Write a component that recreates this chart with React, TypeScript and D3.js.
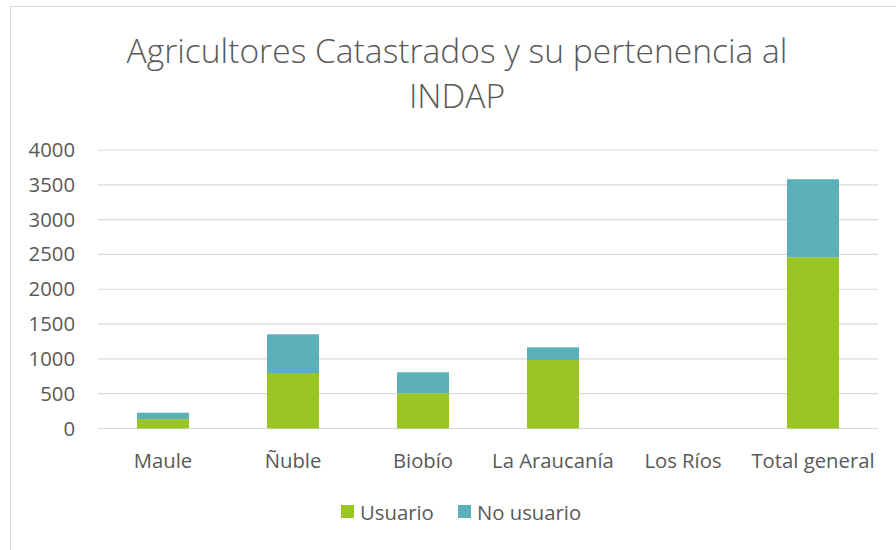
import React, { useEffect, useRef } from 'react';
import * as d3 from 'd3';

const categories = ['Maule', 'Ñuble', 'Biobío', 'La Araucanía', 'Los Ríos', 'Total general'];
const usuario = [135, 797, 506, 984, 0, 2460];
const noUsuario = [92, 556, 301, 182, 0, 1120];
const seriesNames = ['Usuario', 'No usuario'];
const seriesColors = ['#9AC624', '#5BB0B9'];
const yTicks = [0, 500, 1000, 1500, 2000, 2500, 3000, 3500, 4000];
const titleLines = ['Agricultores Catastrados y su pertenencia al', 'INDAP'];

export default function App() {
  const ref = useRef<SVGSVGElement>(null);

  useEffect(() => {
    const svg = d3.select(ref.current);
    svg.selectAll('*').remove();

    const W = 896, H = 550;
    const left = 98, right = 878, top = 150, bottom = 428.5;
    const font = "'Open Sans', sans-serif";
    const labelSize = 20.3;

    // chart frame
    svg.append('rect')
      .attr('x', 10.5).attr('y', 6.5)
      .attr('width', W).attr('height', H)
      .attr('fill', '#fff').attr('stroke', '#d9d9d9');

    // title
    svg.append('g').selectAll('text')
      .data(titleLines)
      .enter().append('text')
      .attr('x', 457)
      .attr('y', (d, i) => 63 + i * 45)
      .attr('text-anchor', 'middle')
      .attr('font-family', font)
      .attr('font-size', 33.6)
      .attr('font-weight', 300)
      .attr('fill', '#595959')
      .text(d => d);

    const x = d3.scaleBand().domain(categories).range([left, right]).paddingInner(0.6).paddingOuter(0.3);
    const y = d3.scaleLinear().domain([0, 4000]).range([bottom, top]);

    // gridlines
    svg.append('g').selectAll('line')
      .data(yTicks)
      .enter().append('line')
      .attr('x1', left).attr('x2', right)
      .attr('y1', d => y(d)).attr('y2', d => y(d))
      .attr('stroke', '#d9d9d9').attr('stroke-width', 1.2);

    // y axis labels
    svg.append('g').selectAll('text')
      .data(yTicks)
      .enter().append('text')
      .attr('x', 75)
      .attr('y', d => y(d) + 7)
      .attr('text-anchor', 'end')
      .attr('font-family', font)
      .attr('font-size', labelSize)
      .attr('fill', '#595959')
      .text(d => d);

    // stacked bars
    const rows = categories.map((c, i) => ({ cat: c, Usuario: usuario[i], 'No usuario': noUsuario[i] }));
    const stack = d3.stack<any>().keys(seriesNames)(rows);
    svg.append('g').selectAll('g')
      .data(stack)
      .enter().append('g')
      .attr('fill', (d, i) => seriesColors[i])
      .selectAll('rect')
      .data(d => d)
      .enter().append('rect')
      .attr('x', d => x(d.data.cat)!)
      .attr('width', x.bandwidth())
      .attr('y', d => y(d[1]))
      .attr('height', d => y(d[0]) - y(d[1]));

    // category labels
    svg.append('g').selectAll('text')
      .data(categories)
      .enter().append('text')
      .attr('x', d => x(d)! + x.bandwidth() / 2)
      .attr('y', 468)
      .attr('text-anchor', 'middle')
      .attr('font-family', font)
      .attr('font-size', labelSize)
      .attr('fill', '#595959')
      .text(d => d);

    // legend
    const legendX = [341, 458];
    const lg = svg.append('g').selectAll('g')
      .data(seriesNames)
      .enter().append('g')
      .attr('transform', (d, i) => `translate(${legendX[i]},505)`);
    lg.append('rect').attr('width', 13).attr('height', 13).attr('fill', (d, i) => seriesColors[i]);
    lg.append('text')
      .attr('x', 19).attr('y', 14.5)
      .attr('font-family', font)
      .attr('font-size', labelSize)
      .attr('fill', '#595959')
      .text(d => d);
  }, []);

  return (
    <svg ref={ref} width={896} height={550} style={{ position: 'absolute', left: 0, top: 0 }} />
  );
}
